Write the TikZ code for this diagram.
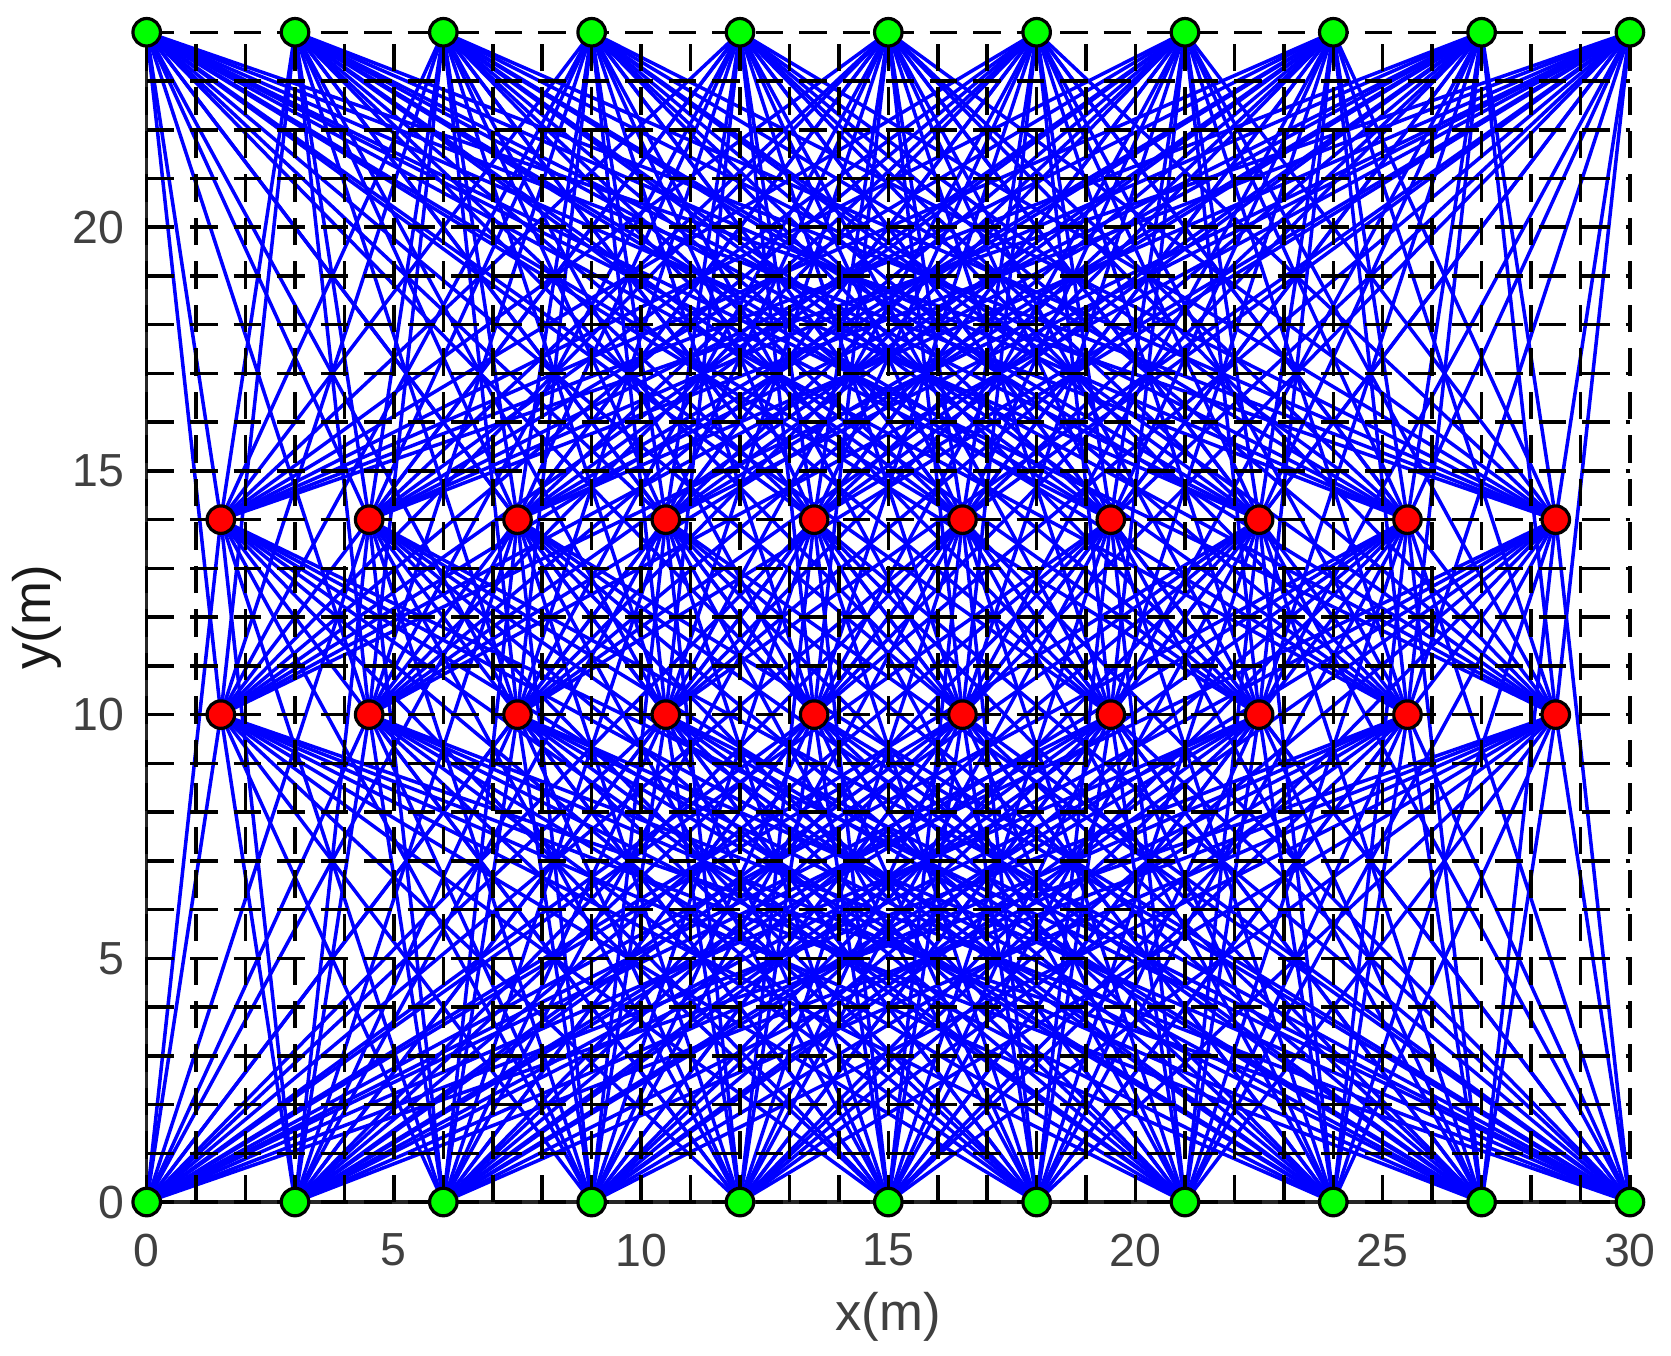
\documentclass[tikz,border=0pt]{standalone}
\usepackage{fontspec}
\setmainfont{Liberation Sans}
\definecolor{tickgray}{RGB}{64,64,64}
\definecolor{axgray}{RGB}{38,38,38}
\definecolor{mblue}{RGB}{0,0,255}
\definecolor{mgreen}{RGB}{0,255,0}
\definecolor{mred}{RGB}{255,0,0}
\begin{document}
\begin{tikzpicture}[x=0.4944cm,y=0.4874cm,
  link/.style={mblue,line width=1.0pt},
  gridline/.style={black,line width=1.0pt,dash pattern=on 2.75mm off 1.6mm},
  axisline/.style={axgray,line width=1.0pt},
  gnode/.style={circle,fill=mgreen,draw=black,line width=0.32mm,minimum size=2.75mm,inner sep=0pt},
  rnode/.style={circle,fill=mred,draw=black,line width=0.32mm,minimum size=2.75mm,inner sep=0pt},
  ticklab/.style={text=tickgray,inner sep=0pt,font=\fontsize{13.2}{16}\selectfont},
  axlab/.style={inner sep=0pt,font=\fontsize{15}{18}\selectfont}]
\useasboundingbox (-2.967,-3.139) rectangle (30.831,24.662);
% positions
\foreach \i in {0,...,10} {
  \coordinate (T\i) at ({3*\i},24);
  \coordinate (B\i) at ({3*\i},0);
}
\foreach \j in {0,...,9} {
  \coordinate (U\j) at ({1.5+3*\j},14);
  \coordinate (L\j) at ({1.5+3*\j},10);
}
% links
\foreach \i in {0,...,10} {
  \foreach \j in {0,...,9} {
    \draw[link] (T\i) -- (U\j);
    \draw[link] (T\i) -- (L\j);
    \draw[link] (B\i) -- (U\j);
    \draw[link] (B\i) -- (L\j);
  }
}
% axes
\draw[axisline] (0,24) -- (0,0) -- (30,0);
% grid
\foreach \k in {0,...,30} \draw[gridline] (\k,0) -- (\k,24);
\foreach \k in {0,...,24} \draw[gridline] (0,\k) -- (30,\k);
% tick labels
\foreach \v in {0,5,...,30} \node[ticklab] (xt\v) at (\v,-0.985) {\v};
\foreach \v in {0,5,...,20} \node[ticklab,anchor=east] (yt\v) at (-0.44,\v) {\v};
\node[axlab,text=tickgray] (xlab) at (15,-2.35) {x(m)};
\node[axlab,text=black!90,rotate=90] (ylab) at (-2.225,12) {y(m)};
% nodes
\foreach \i in {0,...,10} {
  \node[gnode] (gt\i) at (T\i) {};
  \node[gnode] (gb\i) at (B\i) {};
}
\foreach \j in {0,...,9} {
  \node[rnode] (ru\j) at (U\j) {};
  \node[rnode] (rl\j) at (L\j) {};
}
\end{tikzpicture}
\end{document}
